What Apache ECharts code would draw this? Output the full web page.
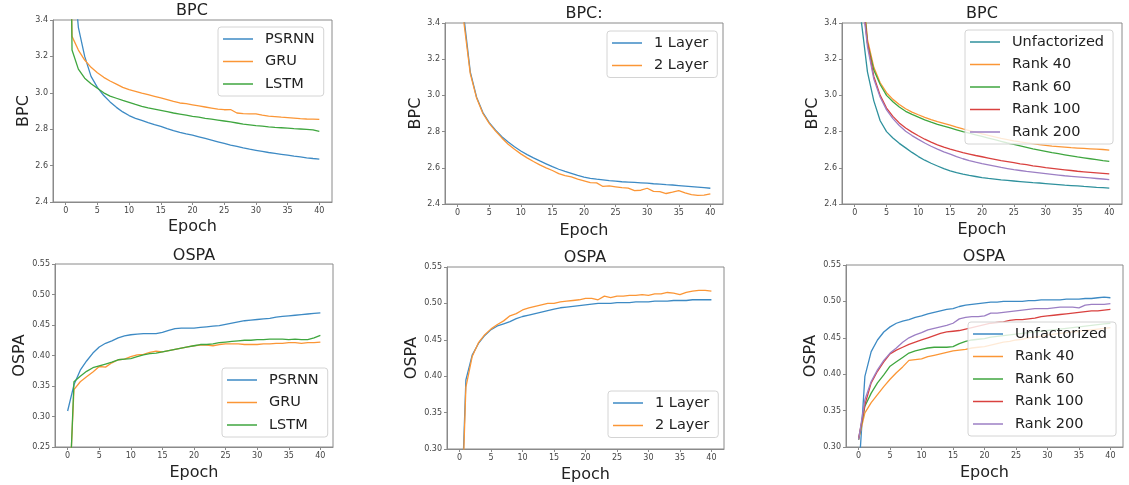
<!DOCTYPE html>
<html>
<head>
<meta charset="utf-8">
<script src="https://cdn.jsdelivr.net/npm/echarts@6/dist/echarts.min.js"></script>
<style>
  html, body { margin: 0; padding: 0; background: #fff; }
  #chart { width: 1129px; height: 485px; }
</style>
</head>
<body>
<div id="chart"></div>
<script>
// epochs and tick labels
const epochs = [0,1,2,3,4,5,6,7,8,9,10,11,12,13,14,15,16,17,18,19,20,21,22,23,24,25,26,27,28,29,30,31,32,33,34,35,36,37,38,39,40];
const epochTicks = [0, 5, 10, 15, 20, 25, 30, 35, 40];
const bpcTicks = [2.4, 2.6, 2.8, 3.0, 3.2, 3.4];
const ospaTicksLeft = [0.25, 0.30, 0.35, 0.40, 0.45, 0.50, 0.55];
const ospaTicks = [0.30, 0.35, 0.40, 0.45, 0.50, 0.55];

// top left: BPC per model
const bpcPsrnn = [4.4,3.75,3.36,3.2,3.09,3.03,2.985,2.95,2.92,2.895,2.875,2.86,2.848,2.836,2.825,2.815,2.803,2.792,2.782,2.774,2.767,2.758,2.749,2.74,2.731,2.722,2.713,2.705,2.697,2.69,2.684,2.678,2.672,2.667,2.662,2.657,2.652,2.648,2.643,2.639,2.636];
const bpcGru = [5.1,3.31,3.235,3.18,3.14,3.11,3.085,3.065,3.048,3.03,3.017,3.008,2.998,2.99,2.981,2.972,2.963,2.953,2.944,2.94,2.934,2.928,2.922,2.916,2.91,2.907,2.908,2.889,2.886,2.884,2.884,2.877,2.872,2.869,2.866,2.864,2.861,2.858,2.856,2.855,2.854];
const bpcLstm = [6.5,3.235,3.13,3.08,3.05,3.025,3.0,2.982,2.97,2.958,2.947,2.936,2.926,2.917,2.91,2.903,2.896,2.889,2.883,2.877,2.871,2.866,2.86,2.855,2.85,2.845,2.84,2.834,2.828,2.824,2.82,2.817,2.813,2.81,2.808,2.806,2.803,2.801,2.799,2.796,2.788];

// top middle: BPC per depth
const bpcLayer1 = [5.0,3.43,3.13,2.99,2.905,2.85,2.808,2.772,2.742,2.716,2.693,2.673,2.655,2.638,2.622,2.606,2.592,2.58,2.569,2.558,2.549,2.542,2.537,2.533,2.529,2.526,2.523,2.521,2.519,2.517,2.515,2.512,2.51,2.507,2.505,2.502,2.499,2.496,2.493,2.49,2.487];
const bpcLayer2 = [5.0,3.40,3.12,2.985,2.9,2.845,2.803,2.765,2.73,2.702,2.677,2.655,2.635,2.616,2.6,2.585,2.568,2.557,2.55,2.538,2.528,2.518,2.517,2.497,2.5,2.495,2.49,2.488,2.474,2.476,2.487,2.47,2.468,2.458,2.465,2.474,2.462,2.452,2.448,2.449,2.456];

// top right: BPC per rank
const bpcUnfact = [5.0,3.42,3.13,2.97,2.86,2.80,2.765,2.735,2.71,2.685,2.662,2.642,2.625,2.61,2.595,2.583,2.573,2.565,2.558,2.552,2.546,2.541,2.537,2.533,2.53,2.527,2.524,2.521,2.518,2.516,2.513,2.51,2.507,2.504,2.502,2.5,2.497,2.495,2.492,2.49,2.488];
const bpcRank40 = [7.0,3.7,3.31,3.155,3.07,3.015,2.978,2.95,2.926,2.908,2.893,2.879,2.866,2.855,2.846,2.836,2.825,2.815,2.806,2.797,2.788,2.779,2.771,2.763,2.756,2.749,2.743,2.738,2.733,2.728,2.724,2.72,2.717,2.714,2.711,2.709,2.707,2.705,2.703,2.701,2.698];
const bpcRank60 = [7.0,3.68,3.29,3.14,3.06,3.0,2.965,2.936,2.912,2.895,2.88,2.865,2.852,2.84,2.83,2.82,2.81,2.8,2.791,2.782,2.773,2.764,2.755,2.746,2.737,2.729,2.721,2.713,2.705,2.698,2.691,2.684,2.678,2.672,2.666,2.66,2.655,2.65,2.645,2.64,2.636];
const bpcRank100 = [6.5,3.6,3.29,3.105,3.0,2.93,2.884,2.848,2.82,2.797,2.777,2.758,2.742,2.727,2.714,2.703,2.693,2.684,2.676,2.668,2.661,2.654,2.647,2.64,2.634,2.628,2.622,2.617,2.611,2.606,2.601,2.597,2.593,2.589,2.585,2.581,2.578,2.575,2.572,2.569,2.566];
const bpcRank200 = [6.5,3.58,3.27,3.09,2.99,2.92,2.872,2.834,2.802,2.778,2.757,2.737,2.719,2.703,2.688,2.675,2.662,2.65,2.64,2.631,2.623,2.616,2.609,2.602,2.596,2.59,2.585,2.58,2.576,2.572,2.568,2.564,2.56,2.556,2.553,2.55,2.547,2.544,2.541,2.538,2.535];

// bottom left: OSPA per model
const ospaPsrnn = [0.309,0.352,0.376,0.391,0.404,0.414,0.42,0.424,0.429,0.432,0.434,0.435,0.436,0.436,0.436,0.438,0.441,0.444,0.445,0.445,0.445,0.446,0.447,0.448,0.449,0.451,0.453,0.455,0.457,0.458,0.459,0.46,0.461,0.463,0.464,0.465,0.466,0.467,0.468,0.469,0.47];
const ospaGru = [0.11,0.344,0.357,0.365,0.373,0.382,0.381,0.388,0.393,0.394,0.398,0.401,0.402,0.405,0.407,0.406,0.408,0.41,0.412,0.414,0.416,0.417,0.417,0.416,0.418,0.419,0.419,0.419,0.418,0.418,0.418,0.419,0.419,0.42,0.42,0.421,0.421,0.42,0.421,0.421,0.422];
const ospaLstm = [0.09,0.357,0.366,0.374,0.38,0.383,0.386,0.389,0.393,0.394,0.395,0.398,0.401,0.403,0.404,0.406,0.408,0.41,0.412,0.414,0.416,0.418,0.418,0.419,0.421,0.422,0.423,0.424,0.425,0.425,0.426,0.426,0.427,0.427,0.427,0.426,0.427,0.426,0.426,0.429,0.433];

// bottom middle: OSPA per depth
const ospaLayer1 = [0.14,0.395,0.429,0.445,0.456,0.464,0.469,0.472,0.475,0.479,0.482,0.484,0.486,0.488,0.49,0.492,0.494,0.495,0.496,0.497,0.498,0.499,0.5,0.5,0.5,0.501,0.501,0.501,0.502,0.502,0.502,0.503,0.503,0.503,0.504,0.504,0.504,0.505,0.505,0.505,0.505];
const ospaLayer2 = [0.12,0.385,0.427,0.446,0.457,0.465,0.471,0.476,0.483,0.486,0.491,0.494,0.496,0.498,0.5,0.5,0.502,0.503,0.504,0.505,0.507,0.507,0.505,0.51,0.508,0.51,0.51,0.511,0.511,0.512,0.511,0.513,0.513,0.515,0.514,0.512,0.515,0.517,0.518,0.518,0.517];

// bottom right: OSPA per rank
const ospaUnfact = [0.26,0.397,0.431,0.447,0.458,0.465,0.47,0.473,0.475,0.478,0.48,0.483,0.485,0.487,0.489,0.49,0.493,0.495,0.496,0.497,0.498,0.499,0.499,0.5,0.5,0.5,0.5,0.501,0.501,0.502,0.502,0.502,0.502,0.503,0.503,0.503,0.504,0.504,0.505,0.506,0.505];
const ospaRank40 = [0.31,0.347,0.361,0.372,0.383,0.393,0.402,0.41,0.419,0.42,0.421,0.424,0.426,0.428,0.43,0.432,0.433,0.434,0.436,0.437,0.438,0.44,0.442,0.444,0.445,0.447,0.448,0.45,0.451,0.452,0.454,0.455,0.456,0.457,0.458,0.459,0.46,0.461,0.462,0.463,0.464];
const ospaRank60 = [0.31,0.356,0.374,0.388,0.399,0.411,0.417,0.423,0.429,0.432,0.434,0.436,0.437,0.437,0.437,0.438,0.442,0.445,0.447,0.448,0.449,0.451,0.452,0.453,0.454,0.455,0.456,0.457,0.458,0.459,0.46,0.461,0.462,0.463,0.464,0.465,0.466,0.467,0.468,0.469,0.47];
const ospaRank100 = [0.312,0.358,0.388,0.404,0.417,0.428,0.433,0.437,0.441,0.444,0.447,0.45,0.453,0.456,0.458,0.459,0.46,0.462,0.464,0.466,0.468,0.47,0.471,0.472,0.474,0.475,0.475,0.476,0.477,0.479,0.48,0.481,0.482,0.483,0.484,0.485,0.486,0.487,0.487,0.488,0.489];
const ospaRank200 = [0.31,0.365,0.39,0.406,0.419,0.429,0.436,0.444,0.45,0.454,0.457,0.461,0.463,0.465,0.467,0.47,0.476,0.478,0.479,0.479,0.48,0.484,0.484,0.485,0.486,0.487,0.488,0.489,0.49,0.49,0.49,0.491,0.492,0.492,0.492,0.491,0.495,0.496,0.496,0.496,0.497];

const BLUE = '#3d8ac4', ORANGE = '#fb9636', GREEN = '#3fa63f', RED = '#d9413f', PURPLE = '#9c7fc4', TEAL = '#2f919d';
const FONT = 'DejaVu Sans';
const AXIS_COLOR = '#8a8a8a';

let chart = echarts.init(document.getElementById('chart'), null, { renderer: 'canvas' });

// panel boxes in pixels
const grids = [
    { left: 53, top: 20, width: 279, height: 182 },
    { left: 445, top: 23, width: 278, height: 181 },
    { left: 842, top: 23, width: 280, height: 181 },
    { left: 55, top: 264, width: 278, height: 183 },
    { left: 447, top: 267, width: 277, height: 182 },
    { left: 846, top: 265, width: 277, height: 182 }
];

function xAxisFor(i, gap) {
    return {
        gridIndex: i, type: 'value', min: -2, max: 42,
        name: 'Epoch', nameLocation: 'middle', nameGap: gap,
        nameTextStyle: { fontFamily: FONT, fontSize: 16, color: '#222' },
        axisLine: { show: true, onZero: false, lineStyle: { color: AXIS_COLOR } },
        axisTick: { show: true, length: 3, customValues: epochTicks, lineStyle: { color: AXIS_COLOR } },
        axisLabel: { customValues: epochTicks, fontFamily: FONT, fontSize: 8, color: '#444', margin: 5 },
        splitLine: { show: false }
    };
}

function yAxisFor(i, name, min, max, ticks, digits, gap) {
    return {
        gridIndex: i, type: 'value', min: min, max: max,
        name: name, nameLocation: 'middle', nameGap: gap,
        nameTextStyle: { fontFamily: FONT, fontSize: 16, color: '#222' },
        axisLine: { show: true, onZero: false, lineStyle: { color: AXIS_COLOR } },
        axisTick: { show: true, length: 3, customValues: ticks, lineStyle: { color: AXIS_COLOR } },
        axisLabel: { customValues: ticks, fontFamily: FONT, fontSize: 8, color: '#444', margin: 5,
            formatter: v => v.toFixed(digits) },
        splitLine: { show: false }
    };
}

function lineSeries(name, values, color, idx) {
    return {
        name: name, type: 'line', xAxisIndex: idx, yAxisIndex: idx,
        data: epochs.map((e, k) => [e, values[k]]),
        symbol: 'none', showSymbol: false, clip: true,
        lineStyle: { width: 1.3, color: color }, itemStyle: { color: color },
        emphasis: { disabled: true }
    };
}

function legendFor(left, top, items) {
    return {
        left: left, top: top, orient: 'vertical',
        icon: 'rect', itemWidth: 30, itemHeight: 1.5, itemGap: 6.5,
        padding: [4, 9, 4, 5],
        backgroundColor: 'rgba(255,255,255,0.8)', borderColor: '#d4d4d4', borderWidth: 1, borderRadius: 3,
        textStyle: { fontFamily: FONT, fontSize: 14.5, color: '#222', lineHeight: 16, padding: [0, 0, 0, 7] },
        selectedMode: false,
        data: items
    };
}

function titleFor(text, x, top) {
    return {
        text: text, left: x, top: top, textAlign: 'center', padding: 0,
        textStyle: { fontFamily: FONT, fontSize: 16, fontWeight: 'normal', color: '#222', lineHeight: 18 }
    };
}

const modelNames = ['PSRNN', 'GRU', 'LSTM'];
const layerNames = ['1 Layer', '2 Layer'];
const rankNames = ['Unfactorized', 'Rank 40', 'Rank 60', 'Rank 100', 'Rank 200'];

let option = {
    animation: false,
    backgroundColor: '#fff',
    title: [
        titleFor('BPC', 192, 2),
        titleFor('BPC:', 584, 5),
        titleFor('BPC', 982, 5),
        titleFor('OSPA', 194, 247),
        titleFor('OSPA', 585, 249),
        titleFor('OSPA', 984, 248)
    ],
    grid: grids.map(g => Object.assign({ show: true, borderColor: AXIS_COLOR, borderWidth: 1, containLabel: false }, g)),
    xAxis: [xAxisFor(0, 17), xAxisFor(1, 19), xAxisFor(2, 18), xAxisFor(3, 18), xAxisFor(4, 18), xAxisFor(5, 18)],
    yAxis: [
        yAxisFor(0, 'BPC', 2.4, 3.4, bpcTicks, 1, 21),
        yAxisFor(1, 'BPC', 2.4, 3.4, bpcTicks, 1, 20),
        yAxisFor(2, 'BPC', 2.4, 3.4, bpcTicks, 1, 19),
        yAxisFor(3, 'OSPA', 0.25, 0.55, ospaTicksLeft, 2, 27),
        yAxisFor(4, 'OSPA', 0.30, 0.55, ospaTicks, 2, 27),
        yAxisFor(5, 'OSPA', 0.30, 0.55, ospaTicks, 2, 27)
    ],
    legend: [
        legendFor(218, 27, modelNames),
        legendFor(607, 31, layerNames),
        legendFor(965, 30, [{ name: rankNames[0], itemStyle: { color: TEAL } }].concat(rankNames.slice(1))),
        legendFor(222, 368, modelNames),
        legendFor(608, 391, layerNames),
        legendFor(968, 322, [{ name: rankNames[0], itemStyle: { color: BLUE } }].concat(rankNames.slice(1)))
    ],
    series: [
        lineSeries('PSRNN', bpcPsrnn, BLUE, 0),
        lineSeries('GRU', bpcGru, ORANGE, 0),
        lineSeries('LSTM', bpcLstm, GREEN, 0),
        lineSeries('1 Layer', bpcLayer1, BLUE, 1),
        lineSeries('2 Layer', bpcLayer2, ORANGE, 1),
        lineSeries('Unfactorized', bpcUnfact, TEAL, 2),
        lineSeries('Rank 40', bpcRank40, ORANGE, 2),
        lineSeries('Rank 60', bpcRank60, GREEN, 2),
        lineSeries('Rank 100', bpcRank100, RED, 2),
        lineSeries('Rank 200', bpcRank200, PURPLE, 2),
        lineSeries('PSRNN', ospaPsrnn, BLUE, 3),
        lineSeries('GRU', ospaGru, ORANGE, 3),
        lineSeries('LSTM', ospaLstm, GREEN, 3),
        lineSeries('1 Layer', ospaLayer1, BLUE, 4),
        lineSeries('2 Layer', ospaLayer2, ORANGE, 4),
        lineSeries('Unfactorized', ospaUnfact, BLUE, 5),
        lineSeries('Rank 40', ospaRank40, ORANGE, 5),
        lineSeries('Rank 60', ospaRank60, GREEN, 5),
        lineSeries('Rank 100', ospaRank100, RED, 5),
        lineSeries('Rank 200', ospaRank200, PURPLE, 5)
    ]
};
chart.setOption(option);

window.addEventListener('resize', () => {
    chart.resize()
})
</script>
</body>
</html>
